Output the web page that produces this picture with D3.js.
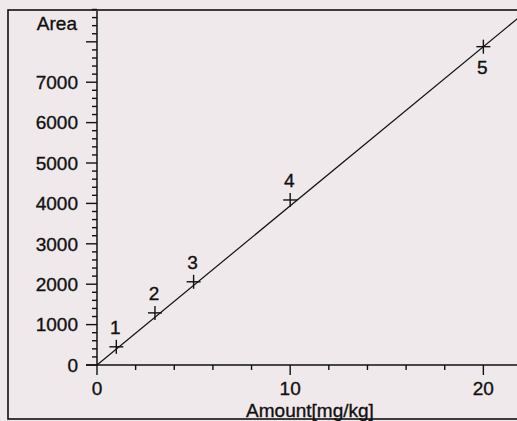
<!DOCTYPE html>
<html>
<head>
<meta charset="utf-8">
<script src="https://d3js.org/d3.v7.min.js"></script>
<style>
  body { margin: 0; background: #efe9eb; }
  svg { display: block; }
  text { font-family: "Liberation Sans", Arial, sans-serif; fill: #111; stroke: #111; stroke-width: 0.35px; font-size: 19px; }
</style>
</head>
<body>
<div id="chart"></div>
<script>
// calibration points
var amounts = [1, 3, 5, 10, 20];
var areas = [450, 1290, 2060, 4085, 7880];
var pointLabels = ["1", "2", "3", "4", "5"];
var labelAbove = [true, true, true, true, false];
// regression line endpoints (amount)
var fitAmounts = [0, 22.5];
var fitSlope = 394, fitIntercept = 0;
var xTicks = [0, 10, 20];
var yTicks = [0, 1000, 2000, 3000, 4000, 5000, 6000, 7000];

var W = 517, H = 421;
var svg = d3.select("#chart").append("svg")
    .attr("width", W).attr("height", H);

// outer frame
svg.append("rect")
    .attr("x", 8).attr("y", 10)
    .attr("width", W).attr("height", 409)
    .attr("fill", "none").attr("stroke", "#111").attr("stroke-width", 1.6);

var x = d3.scaleLinear().domain([0, 22]).range([97, 522]);
var y = d3.scaleLinear().domain([0, 8800]).range([365, 9.5]);

var clip = svg.append("clipPath").attr("id", "clip")
  .append("rect").attr("x", 8).attr("y", 10).attr("width", W).attr("height", 409);

// y axis
var yAxis = svg.append("g").attr("transform", "translate(" + x(0) + ",0)");
yAxis.append("line").attr("x1", 0).attr("x2", 0)
    .attr("y1", y(0)).attr("y2", 11)
    .attr("stroke", "#111").attr("stroke-width", 1.5);
yAxis.selectAll("line.minor").data(d3.range(0, 8801, 200))
  .enter().append("line")
    .attr("x1", 0).attr("x2", function(d) { return d % 1000 === 0 ? -11 : -5; })
    .attr("y1", function(d) { return y(d); }).attr("y2", function(d) { return y(d); })
    .attr("stroke", "#111").attr("stroke-width", 1.4);
yAxis.selectAll("text.tick").data(yTicks)
  .enter().append("text")
    .attr("x", -19).attr("y", function(d) { return y(d); })
    .attr("dy", "0.36em").attr("text-anchor", "end")
    .text(function(d) { return d; });
yAxis.append("text").attr("x", -20).attr("y", 23)
    .attr("dy", "0.36em").attr("text-anchor", "end")
    .text("Area");

// x axis
var xAxis = svg.append("g").attr("transform", "translate(0," + y(0) + ")");
xAxis.append("line").attr("x1", x(0) - 11).attr("x2", W)
    .attr("y1", 0).attr("y2", 0)
    .attr("stroke", "#111").attr("stroke-width", 1.5);
xAxis.selectAll("line.minor").data(d3.range(0, 23, 2))
  .enter().append("line")
    .attr("x1", function(d) { return x(d); }).attr("x2", function(d) { return x(d); })
    .attr("y1", 0).attr("y2", function(d) { return d % 10 === 0 ? 10 : 5; })
    .attr("stroke", "#111").attr("stroke-width", 1.4);
xAxis.selectAll("text.tick").data(xTicks)
  .enter().append("text")
    .attr("x", function(d) { return x(d); }).attr("y", 23)
    .attr("dy", "0.36em").attr("text-anchor", "middle")
    .text(function(d) { return d; });
svg.append("text").attr("x", 310).attr("y", 410)
    .attr("dy", "0.36em").attr("text-anchor", "middle")
    .text("Amount[mg/kg]");

// fitted line
svg.append("line")
    .attr("clip-path", "url(#clip)")
    .attr("x1", x(fitAmounts[0])).attr("y1", y(fitIntercept + fitSlope * fitAmounts[0]))
    .attr("x2", x(fitAmounts[1])).attr("y2", y(fitIntercept + fitSlope * fitAmounts[1]))
    .attr("stroke", "#111").attr("stroke-width", 1.2);

// crosses
var pts = svg.selectAll("g.pt").data(amounts)
  .enter().append("g")
    .attr("transform", function(d, i) { return "translate(" + x(d) + "," + y(areas[i]) + ")"; });
pts.append("line").attr("x1", -7).attr("x2", 7).attr("y1", 0).attr("y2", 0)
    .attr("stroke", "#111").attr("stroke-width", 1.4);
pts.append("line").attr("x1", 0).attr("x2", 0).attr("y1", -7).attr("y2", 7)
    .attr("stroke", "#111").attr("stroke-width", 1.4);
pts.append("text")
    .attr("x", -1)
    .attr("y", function(d, i) { return labelAbove[i] ? -20 : 21; })
    .attr("dy", "0.36em").attr("text-anchor", "middle")
    .text(function(d, i) { return pointLabels[i]; });
</script>
</body>
</html>
